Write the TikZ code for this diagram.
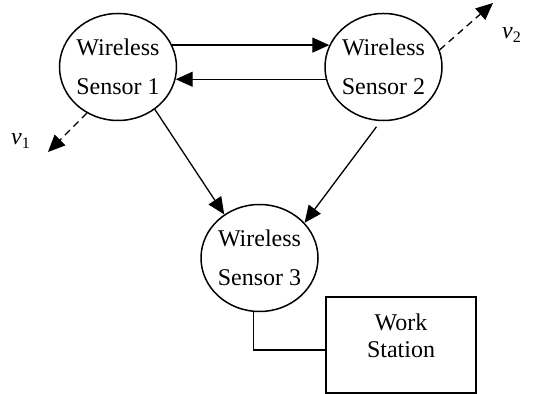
\documentclass[tikz,border=0pt]{standalone}
\usepackage{fontspec}
\setmainfont{Liberation Serif}
\usetikzlibrary{shapes.geometric,arrows.meta}

\tikzset{
  sensor/.style={draw, ellipse, line width=0.75pt, inner sep=-1pt,
    minimum width=58.5pt, minimum height=53.5pt, align=center,
    font=\fontsize{12}{19.5}\selectfont},
  wsbox/.style={draw, rectangle, line width=0.75pt,
    minimum width=75pt, minimum height=48pt},
  boxtext/.style={align=center, inner sep=0pt,
    font=\fontsize{12}{13.7}\selectfont},
  link/.style={line width=0.65pt, -{Triangle[length=8.5pt,width=7.5pt]}},
  motion/.style={link, dash pattern=on 3.5pt off 2.5pt},
  wire/.style={line width=0.65pt},
  vlabel/.style={inner sep=0pt, font=\fontsize{12}{14}\selectfont}
}

\begin{document}
\begin{tikzpicture}[x=0.5pt, y=-0.5pt]
  \useasboundingbox (0,0) rectangle (535,394);

  % sensor nodes
  \node[sensor] (s1) at (118,67)    {Wireless\\Sensor 1};
  \node[sensor] (s2) at (383.5,67)  {Wireless\\Sensor 2};
  \node[sensor] (s3) at (259.5,258) {Wireless\\Sensor 3};

  % work station
  \node[wsbox] (ws) at (401,345) {};
  \node[boxtext] (wstext) at (401,336) {Work\\Station};

  % radio links between sensors
  \draw[link] (s1.22)  -- (s2.158);
  \draw[link] (s2.192) -- (s1.348);
  \draw[link] (s1.311) -- (s3.129);
  \draw[link, shorten <=3.5pt] (s2.267) -- (s3.38);

  % velocity vectors
  \coordinate (v1end) at (48,152);
  \coordinate (v2end) at (493,3);
  \draw[motion] (s1.236) -- (v1end);
  \draw[motion] (s2.17)  -- (v2end);
  \node[vlabel] (v1) at (21,141) {\textit{v}\textsubscript{1}};
  \node[vlabel] (v2) at (512,35) {\textit{v}\textsubscript{2}};

  % wired connection to the work station
  \draw[wire] (s3.264) |- ([yshift=-2.5pt]ws.west);
\end{tikzpicture}
\end{document}
